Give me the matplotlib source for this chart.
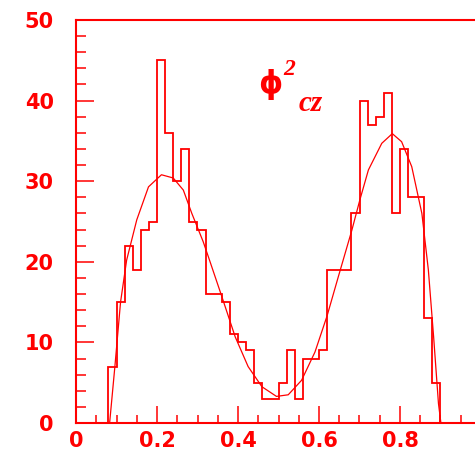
import numpy as np
import matplotlib
matplotlib.use('Agg')
import matplotlib.pyplot as plt
from matplotlib.ticker import MultipleLocator, FuncFormatter

# histogram: 50 bins between 0 and 1
bin_edges = np.linspace(0.0, 1.0, 51)
counts = [0, 0, 0, 0, 7, 15, 22, 19, 24, 25,
          45, 36, 30, 34, 25, 24, 16, 16, 15, 11,
          10, 9, 5, 3, 3, 5, 9, 3, 8, 8,
          9, 19, 19, 19, 26, 40, 37, 38, 41, 26,
          34, 28, 28, 13, 5, 0, 0, 0, 0, 0]

# fitted curve
fit_x = [0.083, 0.096, 0.110, 0.125, 0.150, 0.179, 0.211, 0.240, 0.265, 0.286,
         0.314, 0.327, 0.360, 0.393, 0.425, 0.459, 0.495, 0.524, 0.557, 0.590,
         0.620, 0.648, 0.681, 0.701, 0.722, 0.755, 0.781, 0.804, 0.829, 0.854,
         0.870, 0.883, 0.895, 0.901]
fit_y = [0.0, 7.0, 15.0, 20.2, 25.2, 29.3, 30.8, 30.4, 28.9, 26.0,
         22.5, 20.6, 15.7, 10.7, 7.0, 4.5, 3.3, 3.5, 5.3, 8.8,
         13.3, 18.2, 23.9, 27.7, 31.4, 34.7, 35.9, 34.9, 31.8, 26.0,
         19.0, 10.7, 2.4, 0.0]

red = '#ff0000'

fig = plt.figure(figsize=(4.75, 4.54), dpi=100)
ax = fig.add_axes([76 / 475, 31 / 454, 405 / 475, 403 / 454])

ax.stairs(counts, bin_edges, color=red, linewidth=1.3)
ax.plot(fit_x, fit_y, color=red, linewidth=0.9)

ax.set_xlim(0, 1)
ax.set_ylim(0, 50)

for side in ['left', 'bottom', 'top', 'right']:
    ax.spines[side].set_color(red)
    ax.spines[side].set_linewidth(1.5)


def xfmt(v, p):
    if abs(v) < 1e-9:
        return '0'
    if v > 0.95:
        return ''   # "1" falls outside the picture
    return f'{v:g}'


ax.xaxis.set_major_locator(MultipleLocator(0.2))
ax.xaxis.set_minor_locator(MultipleLocator(0.05))
ax.yaxis.set_major_locator(MultipleLocator(10))
ax.yaxis.set_minor_locator(MultipleLocator(2))
ax.xaxis.set_major_formatter(FuncFormatter(xfmt))

ax.tick_params(which='both', direction='in', colors=red, top=False, right=False, width=1.1)
ax.tick_params(axis='y', which='major', length=13, pad=16, labelsize=15)
ax.tick_params(axis='y', which='minor', length=7)
ax.tick_params(axis='x', which='major', length=12, pad=6, labelsize=15)
ax.tick_params(axis='x', which='minor', length=6)
for lab in ax.get_xticklabels() + ax.get_yticklabels():
    lab.set_fontweight('bold')

# label
ax.text(0.450, 42.0, '\u03d5', color=red, fontsize=22, fontweight='bold', va='center', ha='left')
ax.text(0.513, 43.9, '2', color=red, fontsize=17, fontweight='bold', va='center', ha='left',
        family='Liberation Serif', style='italic')
ax.text(0.550, 39.6, 'cz', color=red, fontsize=21, fontweight='bold', va='center', ha='left',
        family='Liberation Serif', style='italic')

# cut-off cyan mark at the very top
fig.text(288 / 475, 1 - 3 / 454, 'x', color='cyan', fontsize=12, fontweight='bold',
         ha='center', va='bottom')

fig.savefig('out.png', dpi=100)
